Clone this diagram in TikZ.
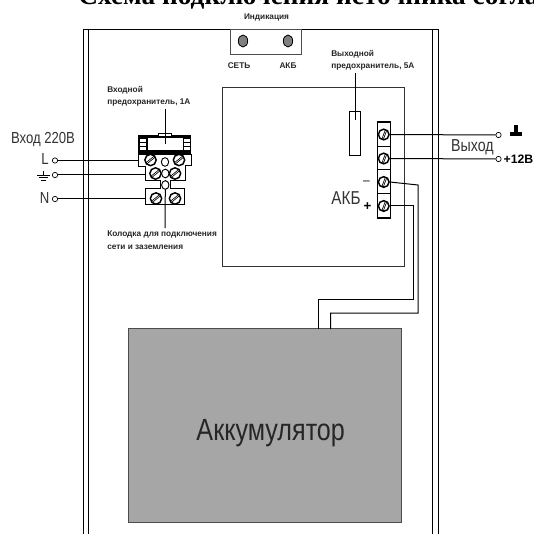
\documentclass[tikz,border=0pt]{standalone}
\usepackage{fontspec}
\setmainfont{Liberation Sans}
\newfontfamily\titlefont{Liberation Serif}
\newfontfamily\narrowfont[FakeStretch=0.82]{Liberation Sans}
\usetikzlibrary{positioning, shapes.geometric}

\begin{document}
\begin{tikzpicture}[x=0.75pt,y=-0.75pt,
   wire/.style={line width=0.75pt,black},
   small label/.style={font=\bfseries\fontsize{6.2}{9}\selectfont,align=left,inner sep=0pt,anchor=north west,text=black!85},
   big label/.style={font=\narrowfont\fontsize{12}{14}\selectfont,inner sep=0pt,text=black!80},
   pin/.style={circle,draw,fill=white,line width=0.5pt,minimum size=4pt,inner sep=0pt},
   led/.style={ellipse,draw,fill=black!50,line width=0.6pt,minimum width=7pt,minimum height=9pt,inner sep=0pt},
   hole/.style={ellipse,draw,fill=white,line width=0.7pt,minimum width=5.5pt,minimum height=6.5pt,inner sep=0pt},
   screw/.style={circle,draw,fill=white,line width=1.1pt,minimum size=8.5pt,inner sep=0pt,
      path picture={\draw[line width=0.6pt,double=white,double distance=0.4pt] ([xshift=-1pt]path picture bounding box.south west) -- ([xshift=1pt]path picture bounding box.north east);}},
   tallscrew/.style={circle,draw,fill=white,line width=1.1pt,minimum size=8pt,inner sep=0pt,
      path picture={\draw[line width=0.6pt,double=white,double distance=0.4pt] ([xshift=3pt]path picture bounding box.south west) -- ([xshift=-2pt]path picture bounding box.north east);}},
   ladder/.style={fill=white,minimum width=4.6pt,minimum height=2.2pt,inner sep=0pt}]
\useasboundingbox (0,0) rectangle (533,534);

\node[font=\titlefont\bfseries\fontsize{20.5}{22}\selectfont,anchor=base west,inner sep=0pt] (heading) at (78,5) {Схема подключения источника согла};
\node[small label,anchor=center] (indication) at (266.5,17) {Индикация};

\draw[wire] (83,534) -- (83,29.5) -- (438,29.5) -- (438,534);
\draw[wire] (88,534) -- (88,29.5);
\draw[wire] (432.5,534) -- (432.5,29.5);

\node[draw=black!70,line width=0.6pt,minimum width=53.25pt,minimum height=18.4pt,inner sep=0pt] (indbox) at (265.5,41.8) {};
\node[led] (ledmains) at (243,41) {};
\node[led] (ledbatt) at (288,41) {};
\node[small label,anchor=center] (mains) at (239,66) {СЕТЬ};
\node[small label,anchor=center] (batt) at (288,66) {АКБ};

\node[draw=black!80,line width=0.7pt,minimum width=136.5pt,minimum height=134pt,inner sep=0pt] (psu) at (313,177) {};
\node[small label] (outfuselabel) at (331,50) {Выходной\\предохранитель, 5А};
\node[draw,fill=white,line width=0.6pt,minimum width=8.8pt,minimum height=33pt,inner sep=0pt] (outfuse) at (355,133) {};
\coordinate (outfusetip) at (355,120);
\coordinate (outfusetop) at (355,73);
\draw[wire] (outfusetop) -- (outfusetip);

\node[draw,fill=white,line width=0.8pt,minimum width=9.5pt,minimum height=72pt,inner sep=0pt] (strip) at (383.7,170) {};
\coordinate (div1a) at (377.3,146.5); \coordinate (div1b) at (390,146.5);
\coordinate (div2a) at (377.3,170); \coordinate (div2b) at (390,170);
\coordinate (div3a) at (377.3,193.5); \coordinate (div3b) at (390,193.5);
\draw[wire] (div1a) -- (div1b) (div2a) -- (div2b) (div3a) -- (div3b);
\node[tallscrew] (s1) at (383.7,134.5) {};
\node[tallscrew] (s2) at (383.7,158.5) {};
\node[tallscrew] (s3) at (383.7,182) {};
\node[tallscrew] (s4) at (383.7,206) {};

\node[pin] (gndout) at (498.5,135) {};
\node[pin] (plusout) at (498.5,159) {};
\draw[wire] (s1.east) -- (gndout.west);
\draw[wire] (s2.east) -- (plusout.west);
\node[big label,font=\narrowfont\fontsize{13}{14}\selectfont] (outlabel) at (472.5,147) {Выход};
\node[font=\bfseries\fontsize{9.2}{11}\selectfont,inner sep=0pt] (twelve) at (518.5,159) {+12В};
\coordinate (gnda) at (510,134); \coordinate (gndb) at (522,134);
\coordinate (gndc) at (515.8,125); \coordinate (gndd) at (515.8,134);
\draw[line width=3pt] (gnda) -- (gndb);
\draw[line width=3.4pt] (gndc) -- (gndd);

\node[big label,font=\narrowfont\fontsize{14}{16}\selectfont] (battlabel) at (346,198) {АКБ};
\node[inner sep=0pt,font=\fontsize{9}{10}\selectfont] (minus) at (366.5,182.5) {--};
\node[inner sep=0pt,font=\bfseries\fontsize{10}{11}\selectfont] (plus) at (367.5,206.5) {+};

\node[draw=black!70,fill=black!35,line width=0.7pt,minimum width=204.8pt,minimum height=145pt,inner sep=0pt] (battery) at (265,425.5) {};
\node[font=\narrowfont\fontsize{23}{25}\selectfont,inner sep=0pt,text=black!85] (batterytext) at (270.7,433) {Аккумулятор};
\coordinate (w1a) at (418,185); \coordinate (w1b) at (418,313); \coordinate (w1c) at (330.7,313); \coordinate (w1d) at (330.7,329);
\coordinate (w2a) at (413,206); \coordinate (w2b) at (413,299); \coordinate (w2c) at (318.7,299); \coordinate (w2d) at (318.7,329);
\draw[wire] (s3.east) -- (w1a) -- (w1b) -- (w1c) -- (w1d);
\draw[wire] (s4.east) -- (w2a) -- (w2b) -- (w2c) -- (w2d);

\node[big label] (inlabel) at (43,140) {Вход 220В};
\node[big label] (Ltext) at (45,158.7) {L};
\node[big label] (Ntext) at (44.5,198) {N};
\node[pin] (Lpin) at (55,160.5) {};
\node[pin] (Gpin) at (55,175) {};
\node[pin] (Npin) at (55,199) {};
\coordinate (gs) at (43.5,171); \coordinate (g0) at (43.5,175);
\draw[line width=0.6pt] (gs) -- (g0) (37,175) -- (50,175) (39,177.8) -- (48,177.8) (41,180.4) -- (46,180.4);

\node[small label] (infuselabel) at (107,86) {Входной\\предохранитель, 1А};

\draw[wire,fill=white] (138.5,155) -- (191.5,155) -- (191.5,166) -- (185,166) -- (185,181) -- (170,181) -- (170,189) -- (184.5,189) -- (184.5,205) -- (145.5,205) -- (145.5,189) -- (160,189) -- (160,181) -- (145,181) -- (145,167) -- (138.5,167) -- cycle;
\node[screw] (t1) at (150.5,160) {};
\node[screw] (t2) at (179,160) {};
\node[hole] (h1) at (165,162) {};
\node[screw] (t3) at (155.5,173.5) {};
\node[screw] (t4) at (175,173.5) {};
\node[hole] (h2) at (165.3,173.5) {};
\node[hole] (h3) at (165.3,185) {};
\node[screw] (t5) at (156,198.5) {};
\node[screw] (t6) at (175,198.5) {};

\node[fill=black,minimum width=40pt,minimum height=15pt,inner sep=0pt] (holder) at (164.8,145) {};
\node[draw,fill=white,line width=0.5pt,minimum width=10pt,minimum height=2.2pt,inner sep=0pt] (tab) at (165,134.5) {};
\node[fill=white,minimum width=26.5pt,minimum height=9pt,inner sep=0pt] (window) at (165.3,144.5) {};
\node[ladder] (la) at (143,140.5) {};
\node[ladder] (lb) at (143,144.5) {};
\node[ladder] (lc) at (143,148.5) {};
\node[ladder] (ra) at (187,140.5) {};
\node[ladder] (rb) at (187,144.5) {};
\node[ladder] (rc) at (187,148.5) {};

\coordinate (Lend) at (138.5,160.5);
\coordinate (Gend) at (145,175);
\coordinate (Nend) at (145.5,199);
\draw[wire] (Lpin.east) -- (Lend);
\draw[wire] (Gpin.east) -- (Gend);
\draw[wire] (Npin.east) -- (Nend);
\coordinate (topfuse) at (165,109); \coordinate (midfuse) at (165,144);
\coordinate (blocktail) at (165,228);
\draw[wire] (topfuse) -- (midfuse);
\draw[wire] (h3.south) -- (blocktail);
\node[small label,font=\bfseries\fontsize{6.2}{9.6}\selectfont] (blocklabel) at (107,230.5) {Колодка для подключения\\сети и заземления};
\end{tikzpicture}
\end{document}
